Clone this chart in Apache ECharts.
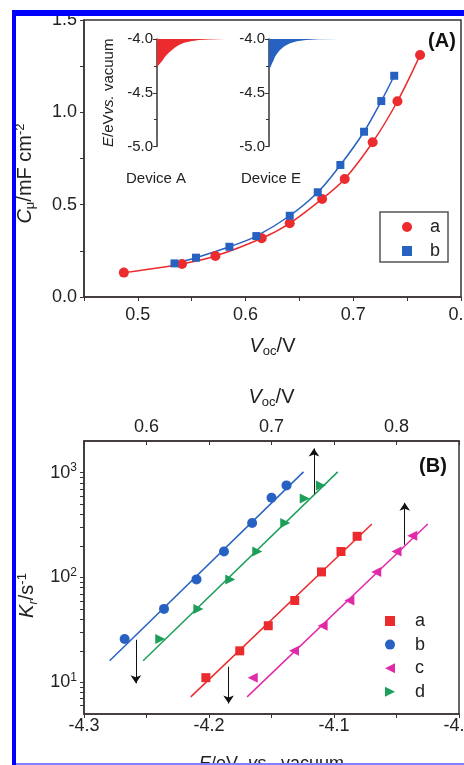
<!DOCTYPE html>
<html>
<head>
<meta charset="utf-8">
<script src="https://cdn.jsdelivr.net/npm/echarts@6/dist/echarts.min.js"></script>
<style>
html, body { margin: 0; padding: 0; background: #fff; }
#chart { width: 464px; height: 765px; }
</style>
</head>
<body>
<div id="chart"></div>
<script>
// panel A: chemical capacitance vs Voc
const vocA = [0.487, 0.541, 0.572, 0.615, 0.641, 0.671, 0.692, 0.718, 0.741, 0.762]
const capA = [0.132, 0.179, 0.222, 0.318, 0.399, 0.531, 0.639, 0.838, 1.06, 1.31]
const vocB = [0.534, 0.554, 0.585, 0.610, 0.641, 0.667, 0.688, 0.710, 0.726, 0.738]
const capB = [0.182, 0.213, 0.272, 0.330, 0.440, 0.567, 0.715, 0.895, 1.061, 1.198]

// insets: trap distribution below -4.0 eV (width in arbitrary units)
const trapEnergyA = [-4.0, -4.004, -4.009, -4.02, -4.035, -4.056, -4.08, -4.103, -4.13, -4.166, -4.2, -4.228, -4.26]
const trapWidthA = [68, 52, 42, 34, 27, 22, 18, 15, 11.5, 8, 5.5, 3, 0]
const trapEnergyE = [-4.0, -4.003, -4.009, -4.02, -4.04, -4.07, -4.103, -4.13, -4.166, -4.2, -4.228, -4.26, -4.29]
const trapWidthE = [71, 50, 37, 28, 21, 15, 11, 8.5, 6, 4.5, 3, 1.5, 0]

// panel B: recombination rate constant vs E
const energyA = [-4.2025, -4.1754, -4.1526, -4.1314, -4.110, -4.0944, -4.0815]
const rateA = [11.1, 20.0, 34.7, 60.4, 113, 177, 247]
const energyB = [-4.2675, -4.236, -4.210, -4.188, -4.1655, -4.150, -4.138]
const rateB = [25.9, 50.2, 95.9, 177, 331, 575, 755]
const energyC = [-4.165, -4.132, -4.1091, -4.0877, -4.0662, -4.050, -4.0374]
const rateC = [11.1, 20.0, 34.7, 60.4, 113, 177, 250]
const energyD = [-4.239, -4.2085, -4.183, -4.1614, -4.139, -4.1234, -4.1105]
const rateD = [25.9, 50.2, 95.9, 177, 331, 565, 755]

// fitted lines (end points)
const fitEnergyA = [-4.2146, -4.0697]
const fitRateA = [7.28, 324]
const fitEnergyB = [-4.2795, -4.1244]
const fitRateB = [16.1, 1016]
const fitEnergyC = [-4.1695, -4.025]
const fitRateC = [7.28, 324]
const fitEnergyD = [-4.2527, -4.097]
const fitRateD = [16.1, 1016]

// vertical arrows
const arrowEnergy = [-4.2585, -4.1843, -4.116, -4.0434]
const arrowFrom = [25.5, 14.1, 628, 205]
const arrowTo = [9.8, 6.3, 1700, 515]

const logMajor = [10, 100, 1000]
const logTicks = [6, 7, 8, 9, 10, 20, 30, 40, 50, 60, 70, 80, 90, 100, 200, 300, 400, 500, 600, 700, 800, 900, 1000]

const red = '#ec2b2e'
const blue = '#2762c2'
const green = '#1d9f5a'
const magenta = '#e02aa8'
const axisColor = '#3a3333'
const textColor = '#222'
const font = 'Liberation Sans, Arial, sans-serif'

const squareIcon = 'path://M0,0H10V10H0Z'
const leftTriangle = 'path://M0,5L10,0L10,10Z'
const rightTriangle = 'path://M0,0L10,5L0,10Z'

const zip = (xs, ys) => xs.map((x, i) => [x, ys[i]])
const onStep = (v, step) => Math.abs(v / step - Math.round(v / step)) < 1e-6

const nameRich = {
  i: { fontStyle: 'italic' },
  sub: { fontSize: 13, padding: [10, 0, 0, 0] },
  isub: { fontSize: 13, fontStyle: 'italic', padding: [10, 0, 0, 0] },
  sup: { fontSize: 13, padding: [0, 0, 10, 0] },
}

function trapArea(energy, width, color) {
  return function (params, api) {
    if (params.dataIndex !== 0) return null
    const points = [api.coord([0, energy[0]])]
    energy.forEach((e, i) => points.push(api.coord([width[i], e])))
    return {
      type: 'polygon',
      shape: { points: points },
      style: { fill: color },
    }
  }
}

const chart = echarts.init(document.getElementById('chart'))

const option = {
  animation: false,
  backgroundColor: '#fff',
  textStyle: { fontFamily: font },
  grid: [
    { left: 84, top: 20, width: 377, height: 277, show: true, borderColor: axisColor, borderWidth: 1.5, outerBoundsMode: 'none', containLabel: false },
    { left: 157, top: 39, width: 72, height: 107.5, outerBoundsMode: 'none', containLabel: false },
    { left: 269, top: 39, width: 72, height: 107.5, outerBoundsMode: 'none', containLabel: false },
    { left: 84, top: 441, width: 375, height: 273, show: true, borderColor: axisColor, borderWidth: 1.5, outerBoundsMode: 'none', containLabel: false },
  ],
  xAxis: [
    {
      type: 'value',
      gridIndex: 0,
      min: 0.45,
      max: 0.8,
      interval: 0.05,
      axisLine: { lineStyle: { color: axisColor, width: 1.5 } },
      axisTick: { length: 4, lineStyle: { color: axisColor } },
      axisLabel: {
        margin: 9,
        fontSize: 18,
        color: textColor,
        formatter: (v) => (onStep(v, 0.1) ? v.toFixed(1) : ''),
      },
      splitLine: { show: false },
      name: '{i|V}{sub|oc}/V',
      nameLocation: 'middle',
      nameGap: 38,
      nameTextStyle: { fontSize: 20, color: textColor, rich: nameRich },
    },
    { type: 'value', gridIndex: 1, min: 0, max: 72, show: false },
    { type: 'value', gridIndex: 2, min: 0, max: 72, show: false },
    {
      type: 'value',
      gridIndex: 3,
      min: -4.3,
      max: -4.0,
      interval: 0.05,
      axisLine: { lineStyle: { color: axisColor, width: 1.5 } },
      axisTick: { length: 4, lineStyle: { color: axisColor } },
      axisLabel: {
        margin: 3,
        fontSize: 18,
        color: textColor,
        formatter: (v) => (onStep(v, 0.1) ? v.toFixed(1) : ''),
      },
      splitLine: { show: false },
      name: '{i|E}/eV  {i|vs.}  vacuum',
      nameLocation: 'middle',
      nameGap: 41,
      nameTextStyle: { fontSize: 18, color: textColor, rich: nameRich },
    },
    {
      type: 'value',
      gridIndex: 3,
      position: 'top',
      min: 0.55,
      max: 0.85,
      interval: 0.05,
      axisLine: { lineStyle: { color: axisColor, width: 1.5 } },
      axisTick: { inside: true, length: 4, lineStyle: { color: axisColor } },
      axisLabel: {
        margin: 5,
        fontSize: 18,
        color: textColor,
        formatter: (v) => (onStep(v, 0.1) ? v.toFixed(1) : ''),
      },
      splitLine: { show: false },
      name: '{i|V}{sub|oc}/V',
      nameLocation: 'middle',
      nameGap: 32,
      nameTextStyle: { fontSize: 20, color: textColor, rich: nameRich },
    },
  ],
  yAxis: [
    {
      type: 'value',
      gridIndex: 0,
      min: 0,
      max: 1.5,
      interval: 0.25,
      axisLine: { lineStyle: { color: axisColor, width: 1.5 } },
      axisTick: { length: 4, lineStyle: { color: axisColor } },
      axisLabel: {
        margin: 7,
        fontSize: 18,
        color: textColor,
        formatter: (v) => (onStep(v, 0.5) ? v.toFixed(1) : ''),
      },
      splitLine: { show: false },
      name: '{i|C}{sub|μ}/mF cm{sup|-2}',
      nameLocation: 'middle',
      nameGap: 47,
      nameTextStyle: { fontSize: 20, color: textColor, rich: nameRich, padding: [0, 30, 0, 0] },
    },
    {
      type: 'value',
      gridIndex: 1,
      min: -5,
      max: -4,
      interval: 0.5,
      axisLine: { lineStyle: { color: axisColor, width: 1.5 } },
      axisTick: { length: 4, lineStyle: { color: axisColor } },
      minorTick: { show: true, splitNumber: 2, length: 3, lineStyle: { color: axisColor } },
      axisLabel: { margin: 4, fontSize: 15, color: textColor, formatter: (v) => v.toFixed(1) },
      splitLine: { show: false },
      name: '{i|E}/eV{i|vs.} vacuum',
      nameLocation: 'middle',
      nameGap: 41,
      nameTextStyle: { fontSize: 15, color: textColor, rich: nameRich },
    },
    {
      type: 'value',
      gridIndex: 2,
      min: -5,
      max: -4,
      interval: 0.5,
      axisLine: { lineStyle: { color: axisColor, width: 1.5 } },
      axisTick: { length: 4, lineStyle: { color: axisColor } },
      minorTick: { show: true, splitNumber: 2, length: 3, lineStyle: { color: axisColor } },
      axisLabel: { margin: 4, fontSize: 15, color: textColor, formatter: (v) => v.toFixed(1) },
      splitLine: { show: false },
    },
    {
      type: 'log',
      logBase: 10,
      gridIndex: 3,
      position: 'left',
      min: 5,
      max: 2000,
      axisLine: { lineStyle: { color: axisColor, width: 1.5 } },
      axisTick: { length: 4, customValues: logTicks, lineStyle: { color: axisColor } },
      axisLabel: {
        margin: 7,
        fontSize: 18,
        color: textColor,
        customValues: logMajor,
        formatter: (v) => '10{s|' + Math.round(Math.log10(v)) + '}',
        rich: { s: { fontSize: 12, padding: [0, 0, 10, 0] } },
      },
      splitLine: { show: false },
      name: '{i|K}{isub|r}/s{sup|-1}',
      nameLocation: 'middle',
      nameGap: 44,
      nameTextStyle: { fontSize: 20, color: textColor, rich: nameRich, padding: [0, 36, 0, 0] },
    },
  ],
  legend: [
    {
      left: 380,
      top: 212,
      orient: 'vertical',
      selectedMode: false,
      borderColor: '#555',
      borderWidth: 1.5,
      padding: [6, 8, 2, 22],
      itemWidth: 36,
      itemHeight: 10,
      itemGap: 6,
      formatter: (n) => n.split('-')[1],
      textStyle: { fontSize: 18, color: textColor, lineHeight: 16 },
      data: [
        { name: 'A-a', icon: 'circle' },
        { name: 'A-b', icon: squareIcon },
      ],
    },
    {
      left: 385,
      top: 612,
      orient: 'vertical',
      selectedMode: false,
      padding: 0,
      itemWidth: 40,
      itemHeight: 10,
      itemGap: 5.6,
      formatter: (n) => n.split('-')[1],
      textStyle: { fontSize: 18, color: textColor, lineHeight: 16 },
      data: [
        { name: 'B-a', icon: squareIcon },
        { name: 'B-b', icon: 'circle' },
        { name: 'B-c', icon: leftTriangle },
        { name: 'B-d', icon: rightTriangle },
      ],
    },
  ],
  series: [
    {
      name: 'A-a',
      type: 'line',
      xAxisIndex: 0,
      yAxisIndex: 0,
      data: zip(vocA, capA),
      smooth: 0.35,
      symbol: 'circle',
      symbolSize: 10,
      itemStyle: { color: red },
      lineStyle: { color: red, width: 1.5 },
    },
    {
      name: 'A-b',
      type: 'line',
      xAxisIndex: 0,
      yAxisIndex: 0,
      data: zip(vocB, capB),
      smooth: 0.35,
      symbol: 'rect',
      symbolSize: 8,
      itemStyle: { color: blue },
      lineStyle: { color: blue, width: 1.5 },
    },
    {
      type: 'custom',
      xAxisIndex: 1,
      yAxisIndex: 1,
      data: zip(trapWidthA, trapEnergyA),
      renderItem: trapArea(trapEnergyA, trapWidthA, red),
    },
    {
      type: 'custom',
      xAxisIndex: 2,
      yAxisIndex: 2,
      data: zip(trapWidthE, trapEnergyE),
      renderItem: trapArea(trapEnergyE, trapWidthE, blue),
    },
    // panel B fit lines
    { type: 'line', xAxisIndex: 3, yAxisIndex: 3, data: zip(fitEnergyA, fitRateA), symbol: 'none', lineStyle: { color: red, width: 1.5 } },
    { type: 'line', xAxisIndex: 3, yAxisIndex: 3, data: zip(fitEnergyB, fitRateB), symbol: 'none', lineStyle: { color: blue, width: 1.5 } },
    { type: 'line', xAxisIndex: 3, yAxisIndex: 3, data: zip(fitEnergyC, fitRateC), symbol: 'none', lineStyle: { color: magenta, width: 1.5 } },
    { type: 'line', xAxisIndex: 3, yAxisIndex: 3, data: zip(fitEnergyD, fitRateD), symbol: 'none', lineStyle: { color: green, width: 1.5 } },
    // panel B points
    { name: 'B-a', type: 'scatter', xAxisIndex: 3, yAxisIndex: 3, data: zip(energyA, rateA), symbol: 'rect', symbolSize: 9, itemStyle: { color: red, opacity: 1 } },
    { name: 'B-b', type: 'scatter', xAxisIndex: 3, yAxisIndex: 3, data: zip(energyB, rateB), symbol: 'circle', symbolSize: 10, itemStyle: { color: blue, opacity: 1 } },
    { name: 'B-c', type: 'scatter', xAxisIndex: 3, yAxisIndex: 3, data: zip(energyC, rateC), symbol: leftTriangle, symbolSize: 10, itemStyle: { color: magenta, opacity: 1 } },
    { name: 'B-d', type: 'scatter', xAxisIndex: 3, yAxisIndex: 3, data: zip(energyD, rateD), symbol: rightTriangle, symbolSize: 10, itemStyle: { color: green, opacity: 1 } },
    {
      type: 'line',
      xAxisIndex: 3,
      yAxisIndex: 3,
      data: [],
      markLine: {
        silent: true,
        symbol: ['none', 'arrow'],
        symbolSize: 8,
        label: { show: false },
        itemStyle: { color: '#111' },
        lineStyle: { color: '#111', width: 1, type: 'solid' },
        data: arrowEnergy.map((e, i) => [{ coord: [e, arrowFrom[i]] }, { coord: [e, arrowTo[i]] }]),
      },
    },
  ],
  graphic: [
    { type: 'rect', shape: { x: 12, y: 10, width: 452, height: 6 }, style: { fill: '#0000ff' }, z: 100 },
    { type: 'rect', shape: { x: 12, y: 10, width: 4, height: 755 }, style: { fill: '#0000ff' }, z: 100 },
    { type: 'rect', shape: { x: 16, y: 763, width: 448, height: 2 }, style: { fill: '#8080ff' }, z: 100 },
    { type: 'text', x: 442, y: 41, style: { text: '(A)', font: 'bold 20px ' + font, fill: '#111', textAlign: 'center', textVerticalAlign: 'middle' } },
    { type: 'text', x: 433, y: 466, style: { text: '(B)', font: 'bold 20px ' + font, fill: '#111', textAlign: 'center', textVerticalAlign: 'middle' } },
    { type: 'text', x: 156, y: 179, style: { text: 'Device A', font: '15px ' + font, fill: textColor, textAlign: 'center', textVerticalAlign: 'middle' } },
    { type: 'text', x: 271, y: 179, style: { text: 'Device E', font: '15px ' + font, fill: textColor, textAlign: 'center', textVerticalAlign: 'middle' } },
  ],
}

chart.setOption(option)
</script>
</body>
</html>
